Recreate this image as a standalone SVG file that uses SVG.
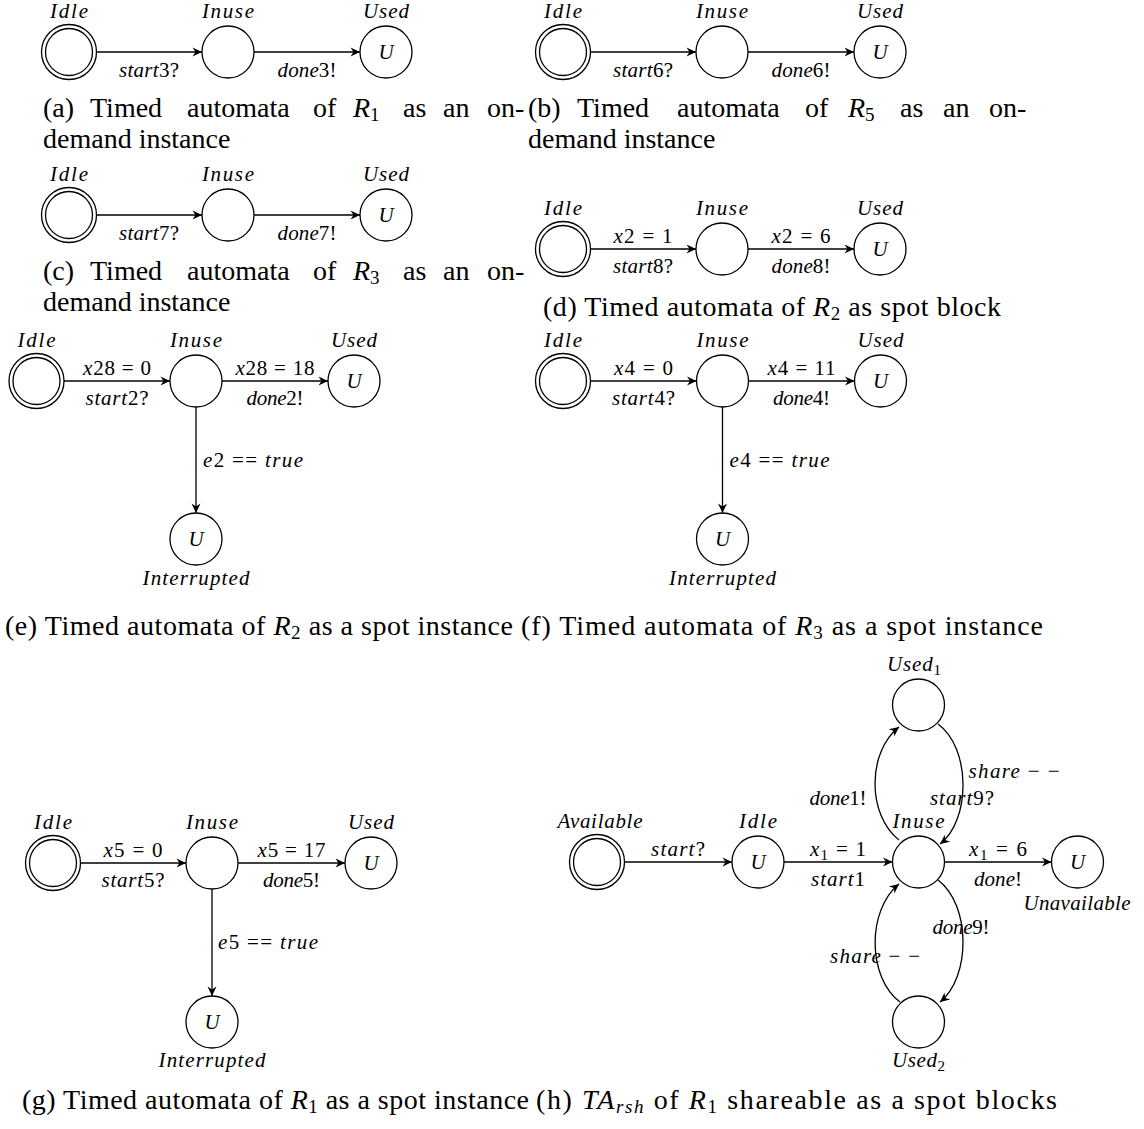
<svg xmlns="http://www.w3.org/2000/svg" width="1144" height="1129" viewBox="0 0 1144 1129">
<style>
.n{fill:#fff;stroke:#000;stroke-width:1.3}
.e{fill:none;stroke:#000;stroke-width:1.3;marker-end:url(#arr)}
.lb{font-family:"Liberation Serif",serif;font-style:italic;font-size:21px;fill:#000}
.m{text-anchor:middle}
.up{font-style:normal}
.cap{font-family:"Liberation Serif",serif;font-size:28px;fill:#000}
.it{font-style:italic}
</style>
<defs>
<marker id="arr" viewBox="-10 -5 11 10" refX="0" refY="0" markerWidth="11" markerHeight="10" markerUnits="userSpaceOnUse" orient="auto">
<path d="M0,0 L-9.5,-4.5 L-6.5,0 L-9.5,4.5 Z" fill="#000"/>
</marker>
</defs>
<rect width="1144" height="1129" fill="#fff"/>

<g id="connectors">
<path class="e" d="M96.5,52 H202"/>
<path class="e" d="M254,52 H360"/>
<path class="e" d="M590.5,52 H696"/>
<path class="e" d="M748,52 H854"/>
<path class="e" d="M96.5,215 H202"/>
<path class="e" d="M254,215 H360"/>
<path class="e" d="M590.5,249 H696"/>
<path class="e" d="M748,249 H854"/>
<path class="e" d="M64,381 H170"/>
<path class="e" d="M222,381 H328"/>
<path class="e" d="M196,407 V513"/>
<path class="e" d="M590.5,381 H696.5"/>
<path class="e" d="M748.5,381 H854.5"/>
<path class="e" d="M722.5,407 V513"/>
<path class="e" d="M80.5,863 H186"/>
<path class="e" d="M238,863 H345"/>
<path class="e" d="M212,889 V996"/>
<path class="e" d="M624.5,862 H732"/>
<path class="e" d="M784,862 H892.5"/>
<path class="e" d="M944.5,862 H1051.5"/>
<path class="e" d="M899,840 C867,815 867,752 899,727"/>
<path class="e" d="M938,724 C971,748 971,820 940,844"/>
<path class="e" d="M938,880 C971,905 971,977 940,1002"/>
<path class="e" d="M900,1002 C867,977 867,910 899,884"/>

<text class="lb m" x="149" y="77" textLength="60">start<tspan class="up">3?</tspan></text>
<text class="lb m" x="307" y="77" textLength="59">done<tspan class="up">3!</tspan></text>
<text class="lb m" x="643" y="77" textLength="60">start<tspan class="up">6?</tspan></text>
<text class="lb m" x="801" y="77" textLength="59">done<tspan class="up">6!</tspan></text>
<text class="lb m" x="149" y="240" textLength="60">start<tspan class="up">7?</tspan></text>
<text class="lb m" x="307" y="240" textLength="59">done<tspan class="up">7!</tspan></text>
<text class="lb m" x="643" y="243" textLength="59">x<tspan class="up">2 = 1</tspan></text>
<text class="lb m" x="643" y="273" textLength="60">start<tspan class="up">8?</tspan></text>
<text class="lb m" x="801" y="243" textLength="59">x<tspan class="up">2 = 6</tspan></text>
<text class="lb m" x="801" y="273" textLength="59">done<tspan class="up">8!</tspan></text>

<text class="lb m" x="117" y="375" textLength="68">x<tspan class="up">28 = 0</tspan></text>
<text class="lb m" x="117" y="405" textLength="63">start<tspan class="up">2?</tspan></text>
<text class="lb m" x="275" y="375" textLength="79">x<tspan class="up">28 = 18</tspan></text>
<text class="lb m" x="275" y="405" textLength="57">done<tspan class="up">2!</tspan></text>
<text class="lb" x="203" y="467" textLength="100">e<tspan class="up">2 == </tspan>true</text>

<text class="lb m" x="643.5" y="375" textLength="59">x<tspan class="up">4 = 0</tspan></text>
<text class="lb m" x="643.5" y="405" textLength="63">start<tspan class="up">4?</tspan></text>
<text class="lb m" x="801.5" y="375" textLength="68">x<tspan class="up">4 = 11</tspan></text>
<text class="lb m" x="801.5" y="405" textLength="57">done<tspan class="up">4!</tspan></text>
<text class="lb" x="729.5" y="467" textLength="100">e<tspan class="up">4 == </tspan>true</text>

<text class="lb m" x="133" y="857" textLength="59">x<tspan class="up">5 = 0</tspan></text>
<text class="lb m" x="133" y="887" textLength="63">start<tspan class="up">5?</tspan></text>
<text class="lb m" x="291.5" y="857" textLength="68">x<tspan class="up">5 = 17</tspan></text>
<text class="lb m" x="291.5" y="887" textLength="57">done<tspan class="up">5!</tspan></text>
<text class="lb" x="218" y="949" textLength="100">e<tspan class="up">5 == </tspan>true</text>

<text class="lb m" x="678" y="856" textLength="54">start<tspan class="up">?</tspan></text>
<text class="lb m" x="838" y="856" textLength="56">x<tspan class="up" font-size="15" dy="4">1</tspan><tspan class="up" dy="-4"> = 1</tspan></text>
<text class="lb m" x="838" y="886" textLength="54">start<tspan class="up">1</tspan></text>
<text class="lb m" x="998" y="856" textLength="58">x<tspan class="up" font-size="15" dy="4">1</tspan><tspan class="up" dy="-4"> = 6</tspan></text>
<text class="lb m" x="998" y="886" textLength="48">done<tspan class="up">!</tspan></text>
<text class="lb m" x="838" y="805" textLength="57">done<tspan class="up">1!</tspan></text>
<text class="lb m" x="962" y="805" textLength="64">start<tspan class="up">9?</tspan></text>
<text class="lb m" x="1014" y="778" textLength="91">share<tspan class="up"> − −</tspan></text>
<text class="lb m" x="961" y="934" textLength="57">done<tspan class="up">9!</tspan></text>
<text class="lb m" x="875" y="963" textLength="90">share<tspan class="up"> − −</tspan></text>
</g>

<g id="a-idle"><circle class="n" cx="69" cy="52" r="27.5"/><circle class="n" cx="69" cy="52" r="23.5"/><text class="lb m" x="69" y="18" textLength="38">Idle</text></g>
<g id="a-inuse"><circle class="n" cx="228" cy="52" r="26"/><text class="lb m" x="228" y="18" textLength="52">Inuse</text></g>
<g id="a-used"><circle class="n" cx="386" cy="52" r="26"/><text class="lb m" x="386" y="18" textLength="46">Used</text><text class="lb m" x="386" y="59">U</text></g>
<g id="b-idle"><circle class="n" cx="563" cy="52" r="27.5"/><circle class="n" cx="563" cy="52" r="23.5"/><text class="lb m" x="563" y="18" textLength="38">Idle</text></g>
<g id="b-inuse"><circle class="n" cx="722" cy="52" r="26"/><text class="lb m" x="722" y="18" textLength="52">Inuse</text></g>
<g id="b-used"><circle class="n" cx="880" cy="52" r="26"/><text class="lb m" x="880" y="18" textLength="46">Used</text><text class="lb m" x="880" y="59">U</text></g>
<g id="c-idle"><circle class="n" cx="69" cy="215" r="27.5"/><circle class="n" cx="69" cy="215" r="23.5"/><text class="lb m" x="69" y="181" textLength="38">Idle</text></g>
<g id="c-inuse"><circle class="n" cx="228" cy="215" r="26"/><text class="lb m" x="228" y="181" textLength="52">Inuse</text></g>
<g id="c-used"><circle class="n" cx="386" cy="215" r="26"/><text class="lb m" x="386" y="181" textLength="46">Used</text><text class="lb m" x="386" y="222">U</text></g>
<g id="d-idle"><circle class="n" cx="563" cy="249" r="27.5"/><circle class="n" cx="563" cy="249" r="23.5"/><text class="lb m" x="563" y="215" textLength="38">Idle</text></g>
<g id="d-inuse"><circle class="n" cx="722" cy="249" r="26"/><text class="lb m" x="722" y="215" textLength="52">Inuse</text></g>
<g id="d-used"><circle class="n" cx="880" cy="249" r="26"/><text class="lb m" x="880" y="215" textLength="46">Used</text><text class="lb m" x="880" y="256">U</text></g>
<g id="e-idle"><circle class="n" cx="36.5" cy="381" r="27.5"/><circle class="n" cx="36.5" cy="381" r="23.5"/><text class="lb m" x="36.5" y="347" textLength="38">Idle</text></g>
<g id="e-inuse"><circle class="n" cx="196" cy="381" r="26"/><text class="lb m" x="196" y="347" textLength="52">Inuse</text></g>
<g id="e-used"><circle class="n" cx="354" cy="381" r="26"/><text class="lb m" x="354" y="347" textLength="46">Used</text><text class="lb m" x="354" y="388">U</text></g>
<g id="e-interrupted"><circle class="n" cx="196" cy="539" r="26"/><text class="lb m" x="196" y="546">U</text><text class="lb m" x="196" y="585" textLength="107">Interrupted</text></g>
<g id="f-idle"><circle class="n" cx="563" cy="381" r="27.5"/><circle class="n" cx="563" cy="381" r="23.5"/><text class="lb m" x="563" y="347" textLength="38">Idle</text></g>
<g id="f-inuse"><circle class="n" cx="722.5" cy="381" r="26"/><text class="lb m" x="722.5" y="347" textLength="52">Inuse</text></g>
<g id="f-used"><circle class="n" cx="880.5" cy="381" r="26"/><text class="lb m" x="880.5" y="347" textLength="46">Used</text><text class="lb m" x="880.5" y="388">U</text></g>
<g id="f-interrupted"><circle class="n" cx="722.5" cy="539" r="26"/><text class="lb m" x="722.5" y="546">U</text><text class="lb m" x="722.5" y="585" textLength="107">Interrupted</text></g>
<g id="g-idle"><circle class="n" cx="53" cy="863" r="27.5"/><circle class="n" cx="53" cy="863" r="23.5"/><text class="lb m" x="53" y="829" textLength="38">Idle</text></g>
<g id="g-inuse"><circle class="n" cx="212" cy="863" r="26"/><text class="lb m" x="212" y="829" textLength="52">Inuse</text></g>
<g id="g-used"><circle class="n" cx="371" cy="863" r="26"/><text class="lb m" x="371" y="829" textLength="46">Used</text><text class="lb m" x="371" y="870">U</text></g>
<g id="g-interrupted"><circle class="n" cx="212" cy="1022" r="26"/><text class="lb m" x="212" y="1029">U</text><text class="lb m" x="212" y="1067" textLength="107">Interrupted</text></g>
<g id="h-available"><circle class="n" cx="597" cy="862" r="27.5"/><circle class="n" cx="597" cy="862" r="23.5"/><text class="lb m" x="600" y="828" textLength="85">Available</text></g>
<g id="h-idle"><circle class="n" cx="758" cy="862" r="26"/><text class="lb m" x="758" y="869">U</text><text class="lb m" x="758" y="828" textLength="38">Idle</text></g>
<g id="h-inuse"><circle class="n" cx="918.5" cy="862" r="26"/><text class="lb m" x="918.5" y="828" textLength="52">Inuse</text></g>
<g id="h-unavailable"><circle class="n" cx="1077.5" cy="862" r="26"/><text class="lb m" x="1077.5" y="869">U</text><text class="lb m" x="1077" y="910" textLength="107">Unavailable</text></g>
<g id="h-used1"><circle class="n" cx="918.5" cy="705" r="26"/><text class="lb m" x="914" y="671" textLength="54">Used<tspan class="up" font-size="15" dy="4">1</tspan></text></g>
<g id="h-used2"><circle class="n" cx="918.5" cy="1022" r="26"/><text class="lb m" x="918.5" y="1067" textLength="53">Used<tspan class="up" font-size="15" dy="4">2</tspan></text></g>

<g id="captions">
<text class="cap" y="117"><tspan x="43">(a)</tspan><tspan x="90">Timed</tspan><tspan x="187">automata</tspan><tspan x="313">of</tspan><tspan x="353" class="it">R</tspan><tspan font-size="19" dy="4">1</tspan><tspan x="403" dy="-4">as</tspan><tspan x="443">an</tspan><tspan x="487">on-</tspan></text>
<text class="cap" x="43" y="148">demand instance</text>
<text class="cap" y="117"><tspan x="528">(b)</tspan><tspan x="577">Timed</tspan><tspan x="677">automata</tspan><tspan x="805">of</tspan><tspan x="848" class="it">R</tspan><tspan font-size="19" dy="4">5</tspan><tspan x="900" dy="-4">as</tspan><tspan x="943">an</tspan><tspan x="989">on-</tspan></text>
<text class="cap" x="528" y="148">demand instance</text>
<text class="cap" y="280"><tspan x="43">(c)</tspan><tspan x="90">Timed</tspan><tspan x="187">automata</tspan><tspan x="313">of</tspan><tspan x="353" class="it">R</tspan><tspan font-size="19" dy="4">3</tspan><tspan x="403" dy="-4">as</tspan><tspan x="443">an</tspan><tspan x="487">on-</tspan></text>
<text class="cap" x="43" y="311">demand instance</text>
<text class="cap" x="543" y="316" textLength="458">(d) Timed automata of <tspan class="it">R</tspan><tspan font-size="19" dy="4">2</tspan><tspan dy="-4"> as spot block</tspan></text>
<text class="cap" x="5" y="635" textLength="508">(e) Timed automata of <tspan class="it">R</tspan><tspan font-size="19" dy="4">2</tspan><tspan dy="-4"> as a spot instance</tspan></text>
<text class="cap" x="521" y="635" textLength="522">(f) Timed automata of <tspan class="it">R</tspan><tspan font-size="19" dy="4">3</tspan><tspan dy="-4"> as a spot instance</tspan></text>
<text class="cap" x="22" y="1109" textLength="507">(g) Timed automata of <tspan class="it">R</tspan><tspan font-size="19" dy="4">1</tspan><tspan dy="-4"> as a spot instance</tspan></text>
<text class="cap" x="536" y="1109" textLength="521">(h) <tspan class="it">TA</tspan><tspan class="it" font-size="19" dy="4">rsh</tspan><tspan dy="-4"> of </tspan><tspan class="it">R</tspan><tspan font-size="19" dy="4">1</tspan><tspan dy="-4"> shareable as a spot blocks</tspan></text>
</g>
</svg>
